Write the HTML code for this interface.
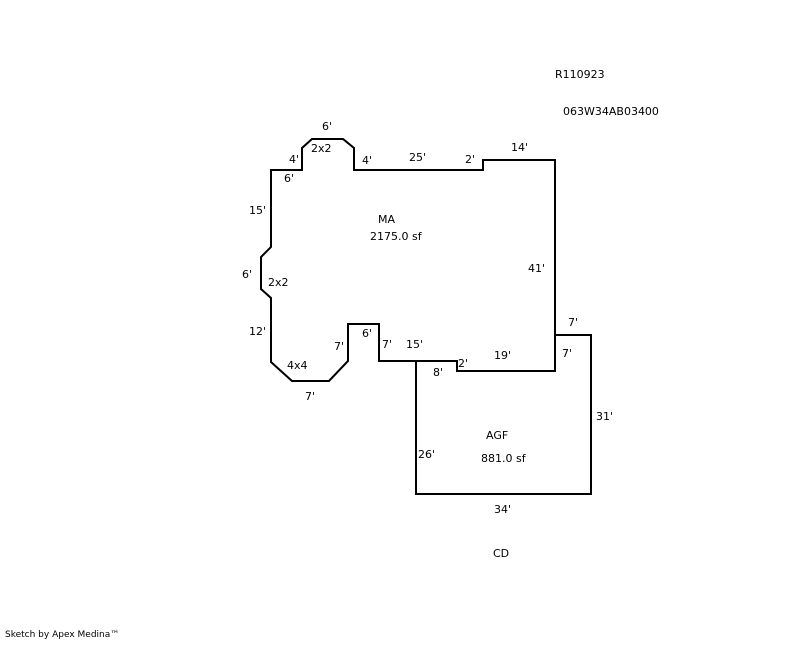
<!DOCTYPE html>
<html><head><style>
body{margin:0;background:#fff;}
svg text{font-family:"DejaVu Sans",sans-serif;font-size:11px;fill:#000;}
</style></head><body>
<svg width="800" height="640" xmlns="http://www.w3.org/2000/svg">
<g fill="none" stroke="#000" stroke-width="2">
<polygon points="271,170 302,170 302,148 312,139 343,139 354,148 354,170 483,170 483,160 555,160 555,371 457,371 457,361 379,361 379,324 348,324 348,361 329,381 292,381 271,362 271,298 261,289 261,257 271,247"/>
<polyline points="555,335 591,335 591,494 416,494 416,361"/>
</g>
<text x="555" y="78">R110923</text>
<text x="563" y="115">063W34AB03400</text>
<text x="322" y="130">6'</text>
<text x="311" y="152">2x2</text>
<text x="289" y="163">4'</text>
<text x="362" y="164">4'</text>
<text x="409" y="161">25'</text>
<text x="465" y="163">2'</text>
<text x="511" y="151">14'</text>
<text x="284" y="182">6'</text>
<text x="249" y="214">15'</text>
<text x="378" y="223">MA</text>
<text x="370" y="240">2175.0 sf</text>
<text x="528" y="272">41'</text>
<text x="242" y="278">6'</text>
<text x="268" y="286">2x2</text>
<text x="249" y="335">12'</text>
<text x="568" y="326">7'</text>
<text x="362" y="337">6'</text>
<text x="334" y="350">7'</text>
<text x="382" y="348">7'</text>
<text x="406" y="348">15'</text>
<text x="562" y="357">7'</text>
<text x="494" y="359">19'</text>
<text x="458" y="367">2'</text>
<text x="287" y="369">4x4</text>
<text x="433" y="376">8'</text>
<text x="305" y="400">7'</text>
<text x="596" y="420">31'</text>
<text x="486" y="439">AGF</text>
<text x="418" y="458">26'</text>
<text x="481" y="462">881.0 sf</text>
<text x="494" y="513">34'</text>
<text x="493" y="557">CD</text>
<text x="5" y="637" style="font-size:9px">Sketch by Apex Medina™</text>
</svg>
</body></html>
